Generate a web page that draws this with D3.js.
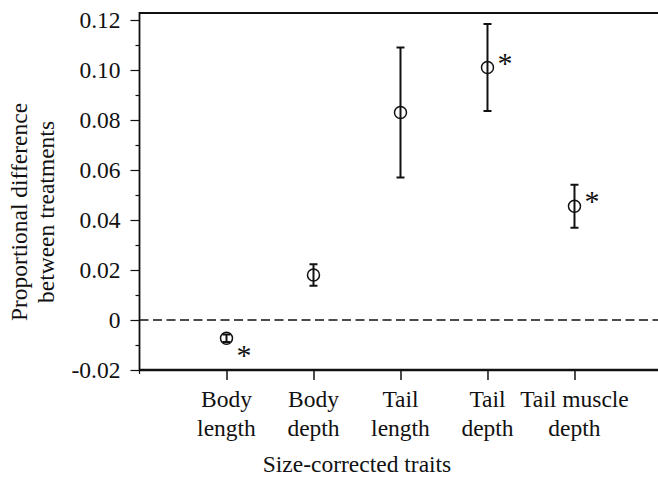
<!DOCTYPE html>
<html>
<head>
<meta charset="utf-8">
<script src="https://cdn.jsdelivr.net/npm/d3@7"></script>
<style>
  html, body { margin: 0; padding: 0; background: #fff; }
  svg { display: block; }
  text { font-family: "Liberation Serif", "Times New Roman", serif; fill: #111; }
</style>
</head>
<body>
<svg id="chart" width="658" height="477"></svg>
<script>
// Size-corrected trait differences between treatments (mean ± error)
const traitLines = [["Body", "length"], ["Body", "depth"], ["Tail", "length"], ["Tail", "depth"], ["Tail muscle", "depth"]];
const traitPos = [1, 2, 3, 4, 5];
const meanDiff = [-0.0073, 0.018, 0.083, 0.101, 0.0455];
const errDiff = [0.0015, 0.0043, 0.026, 0.0174, 0.0086];
const significant = [true, false, false, true, true];
const yMajorTicks = [-0.02, 0, 0.02, 0.04, 0.06, 0.08, 0.10, 0.12];
const yTickLabels = ["-0.02", "0", "0.02", "0.04", "0.06", "0.08", "0.10", "0.12"];
const yMinorTicks = [-0.01, 0.01, 0.03, 0.05, 0.07, 0.09, 0.11];

const svg = d3.select("#chart");
const plotLeft = 139.5, plotRight = 658, plotTop = 13, plotBottom = 370;

const x = d3.scaleLinear().domain([0, 5.96]).range([plotLeft, plotRight]);
const y = d3.scaleLinear().domain([-0.02, 0.1228]).range([plotBottom, plotTop]);

const ink = "#111";
const fontSize = "23.5px";

// zero reference line
svg.append("line")
  .attr("x1", plotLeft).attr("x2", plotRight)
  .attr("y1", y(0)).attr("y2", y(0))
  .attr("stroke", ink).attr("stroke-width", 1.6)
  .attr("stroke-dasharray", "9,4.5");

// left axis: major ticks with labels
const yAxis = d3.axisLeft(y).tickValues(yMajorTicks)
  .tickFormat((d, i) => yTickLabels[i]).tickSize(9).tickPadding(10);
const gy = svg.append("g").attr("transform", `translate(${plotLeft},0)`).call(yAxis);
gy.select(".domain").remove();
gy.selectAll(".tick line").attr("stroke", ink).attr("stroke-width", 1.2);
gy.selectAll(".tick text").style("font-size", fontSize)
  .style("font-family", "'Liberation Serif', serif").attr("fill", ink);

// left axis: minor ticks
const yMinor = d3.axisLeft(y).tickValues(yMinorTicks).tickFormat("").tickSize(4);
const gym = svg.append("g").attr("transform", `translate(${plotLeft},0)`).call(yMinor);
gym.select(".domain").remove();
gym.selectAll(".tick line").attr("stroke", ink).attr("stroke-width", 1.2);

// bottom axis ticks at each trait
const xAxis = d3.axisBottom(x).tickValues(traitPos).tickFormat("").tickSize(10);
const gx = svg.append("g").attr("transform", `translate(0,${plotBottom})`).call(xAxis);
gx.select(".domain").remove();
gx.selectAll(".tick line").attr("stroke", ink).attr("stroke-width", 1.5);
svg.append("line").attr("x1", x(0)).attr("x2", x(0))
  .attr("y1", plotBottom).attr("y2", plotBottom + 4).attr("stroke", ink).attr("stroke-width", 1.2);

// frame lines
svg.append("line").attr("x1", plotLeft).attr("x2", plotRight).attr("y1", plotTop).attr("y2", plotTop)
  .attr("stroke", ink).attr("stroke-width", 2);
svg.append("line").attr("x1", plotLeft).attr("x2", plotRight).attr("y1", plotBottom).attr("y2", plotBottom)
  .attr("stroke", ink).attr("stroke-width", 2.5);
svg.append("line").attr("x1", plotLeft).attr("x2", plotLeft).attr("y1", plotTop - 1).attr("y2", plotBottom + 1.2)
  .attr("stroke", ink).attr("stroke-width", 1.8);

// category labels (two lines each)
traitLines.forEach((lines, i) => {
  const t = svg.append("text")
    .attr("x", x(traitPos[i]))
    .attr("y", 407)
    .attr("text-anchor", "middle")
    .style("font-size", fontSize);
  lines.forEach((s, j) => {
    t.append("tspan").attr("x", x(traitPos[i])).attr("dy", j === 0 ? 0 : 28.5).text(s);
  });
});

// axis titles
svg.append("text")
  .attr("x", 357).attr("y", 472)
  .attr("text-anchor", "middle")
  .style("font-size", fontSize)
  .text("Size-corrected traits");

const yt = svg.append("text")
  .attr("transform", "translate(27,212) rotate(-90)")
  .attr("text-anchor", "middle")
  .style("font-size", fontSize);
yt.append("tspan").attr("x", 0).attr("dy", 0).text("Proportional difference");
yt.append("tspan").attr("x", 0).attr("dy", 27).text("between treatments");

// error bars
const capHalf = 4;
const pts = traitPos.map((p, i) => ({ p, m: meanDiff[i], e: errDiff[i], sig: significant[i] }));

const eb = svg.append("g").selectAll("g").data(pts).join("g");
eb.append("line")
  .attr("x1", d => x(d.p)).attr("x2", d => x(d.p))
  .attr("y1", d => y(d.m + d.e)).attr("y2", d => y(d.m - d.e))
  .attr("stroke", ink).attr("stroke-width", 2);
eb.append("line")
  .attr("x1", d => x(d.p) - capHalf).attr("x2", d => x(d.p) + capHalf)
  .attr("y1", d => y(d.m + d.e)).attr("y2", d => y(d.m + d.e))
  .attr("stroke", ink).attr("stroke-width", 2);
eb.append("line")
  .attr("x1", d => x(d.p) - capHalf).attr("x2", d => x(d.p) + capHalf)
  .attr("y1", d => y(d.m - d.e)).attr("y2", d => y(d.m - d.e))
  .attr("stroke", ink).attr("stroke-width", 2);

// mean markers (open circles)
eb.append("circle")
  .attr("cx", d => x(d.p)).attr("cy", d => y(d.m))
  .attr("r", 6)
  .attr("fill", "none")
  .attr("stroke", ink).attr("stroke-width", 1.5);

// significance asterisks
eb.filter(d => d.sig).append("text")
  .attr("x", d => x(d.p) + 17.5)
  .attr("y", d => y(d.m) + (d.m < 0 ? 12 : -10) + 15)
  .attr("text-anchor", "middle")
  .style("font-size", "30px")
  .style("font-weight", "300")
  .text("*");
</script>
</body>
</html>
